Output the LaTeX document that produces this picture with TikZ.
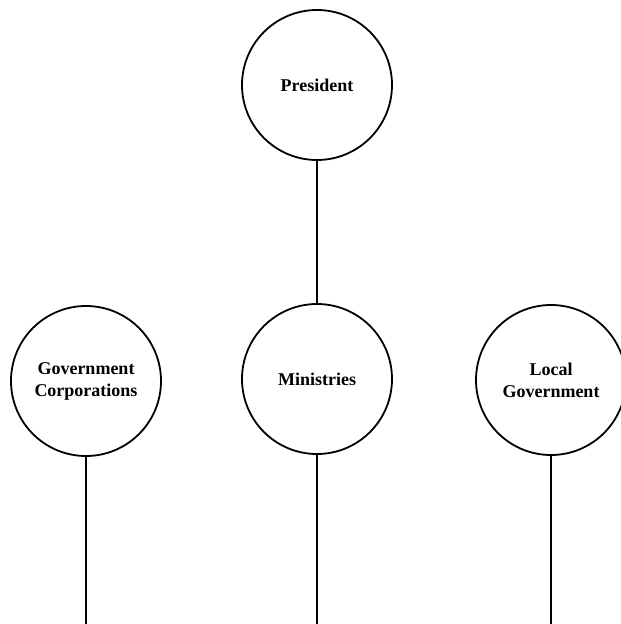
\documentclass[tikz,border=0pt]{standalone}
\usepackage{fontspec}
\setmainfont{Liberation Serif}
\begin{document}
\begin{tikzpicture}[x=1pt,y=-1pt,
  org/.style={circle,draw,line width=1.8pt,minimum size=150pt,inner sep=0pt,align=center,
    font=\bfseries\fontsize{18}{22}\selectfont},
  link/.style={line width=1.8pt}]
\useasboundingbox (0,0) rectangle (621,624);
\node[org] (pres) at (317,85) {President};
\node[org] (min) at (317,379) {Ministries};
\node[org] (gc) at (86,381) {Government\\Corporations};
\node[org] (lg) at (551,380) {Local\\Government};
\coordinate (gcend) at (86,624);
\coordinate (minend) at (317,624);
\coordinate (lgend) at (551,624);
\draw[link] (pres.south) -- (min.north);
\draw[link] (gc.south) -- (gcend);
\draw[link] (min.south) -- (minend);
\draw[link] (lg.south) -- (lgend);
\end{tikzpicture}
\end{document}
